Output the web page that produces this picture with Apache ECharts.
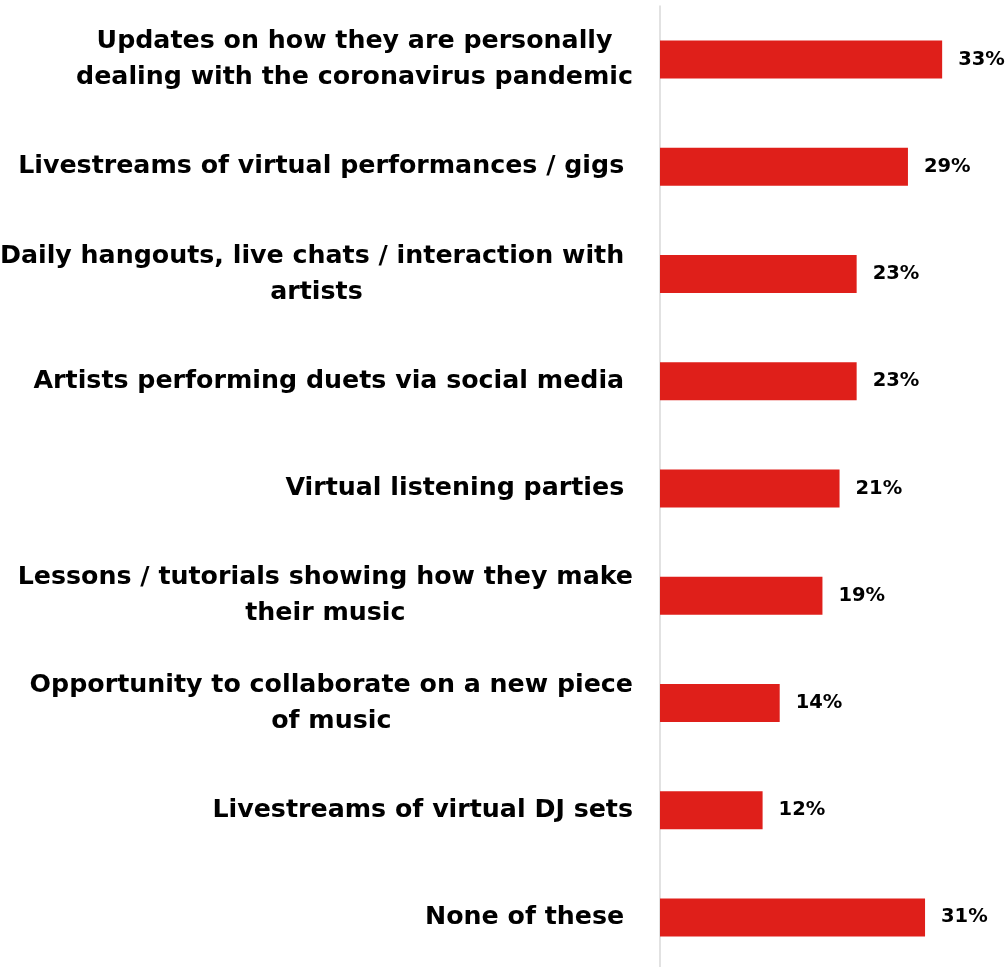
<!DOCTYPE html>
<html>
<head>
<meta charset="utf-8">
<script src="https://cdn.jsdelivr.net/npm/echarts@6/dist/echarts.min.js"></script>
<style>
  html, body { margin: 0; padding: 0; background: #ffffff; }
  #chart { width: 1008px; height: 967px; }
</style>
</head>
<body>
<div id="chart"></div>
<script>
// Activities fans would like to see from artists (top to bottom)
const categories = [
  'Updates on how they are personally\ndealing with the coronavirus pandemic',
  'Livestreams of virtual performances / gigs ',
  'Daily hangouts, live chats / interaction with \nartists',
  'Artists performing duets via social media ',
  'Virtual listening parties ',
  'Lessons / tutorials showing how they make\ntheir music',
  'Opportunity to collaborate on a new piece\nof music',
  'Livestreams of virtual DJ sets',
  'None of these '
];
const values = [33, 29, 23, 23, 21, 19, 14, 12, 31];

const FONT = '"DejaVu Sans", sans-serif';

const chart = echarts.init(document.getElementById('chart'), null, { renderer: 'canvas' });

chart.setOption({
  backgroundColor: '#ffffff',
  animation: false,
  grid: {
    left: 660, right: 6, top: 6, height: 965,
    containLabel: false,
    outerBoundsMode: 'none'
  },
  xAxis: {
    type: 'value',
    min: 0,
    max: 40,
    show: false
  },
  yAxis: {
    type: 'category',
    inverse: true,
    data: categories,
    axisLine: { show: true, lineStyle: { color: '#d9d9d9', width: 1.5 } },
    axisTick: { show: false },
    axisLabel: {
      margin: 27,
      align: 'right',
      formatter: function (v) {
        return v.split('\n').map(function (line) { return '{c|' + line + '}'; }).join('\n');
      },
      rich: {
        c: {
          align: 'center',
          fontFamily: FONT,
          fontWeight: 'bold',
          fontSize: 25.3,
          lineHeight: 36,
          color: '#000000'
        }
      }
    }
  },
  series: [{
    type: 'bar',
    data: values,
    barWidth: 38,
    itemStyle: { color: '#df1f1a' },
    label: {
      show: true,
      position: 'right',
      distance: 16,
      formatter: '{c}%',
      fontFamily: FONT,
      fontWeight: 'bold',
      fontSize: 19.5,
      color: '#000000'
    }
  }]
});
</script>
</body>
</html>
